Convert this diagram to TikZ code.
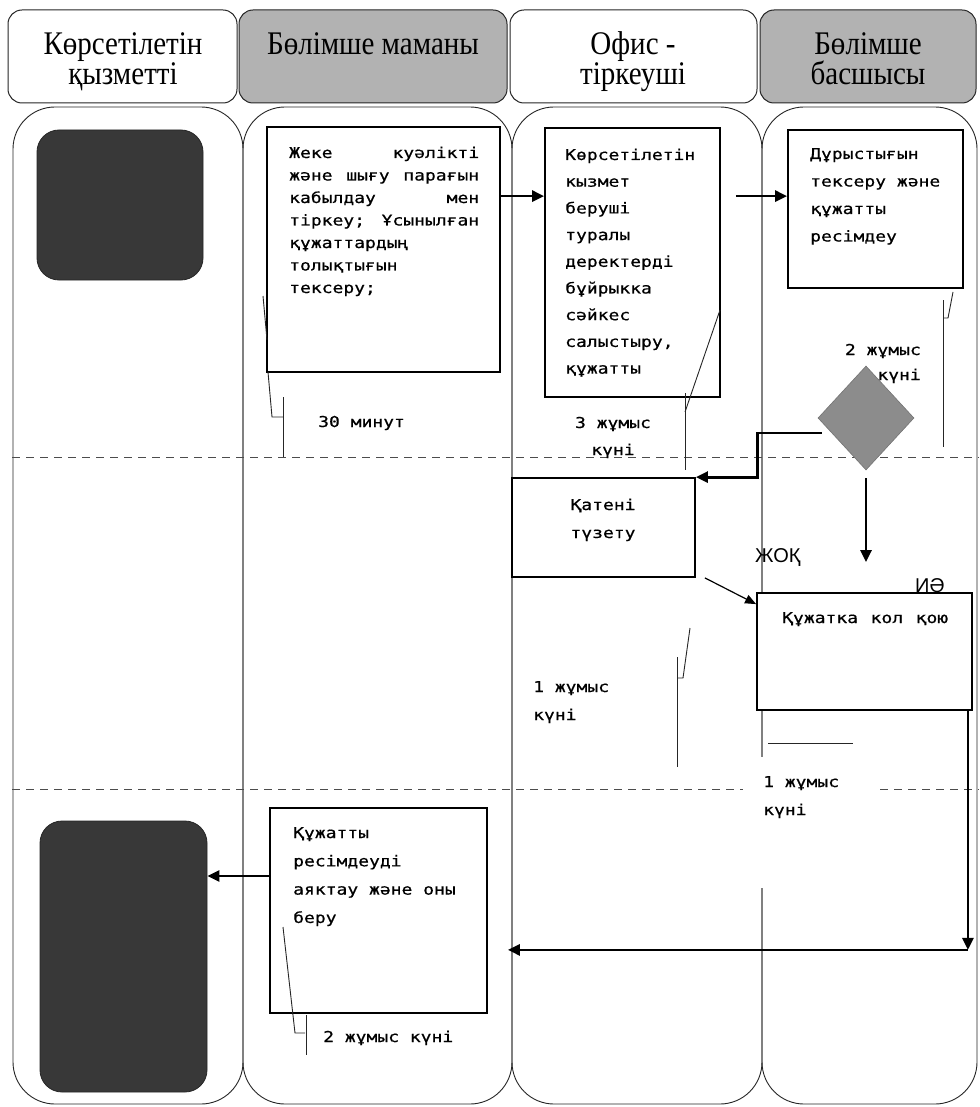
\documentclass[tikz,border=0pt]{standalone}
\usepackage{fontspec}
\setmainfont{Liberation Serif}
\newfontfamily\hdrf[FakeStretch=0.88]{Liberation Serif}
\newfontfamily\monof[FakeStretch=1.2,FakeBold=0.6]{DejaVu Sans Mono}
\newfontfamily\sansf{Liberation Sans}
\usetikzlibrary{arrows.meta,shapes.geometric}
\begin{document}
\begin{tikzpicture}[x=1pt,y=-1pt,
  lane/.style={draw=black!85, line width=0.9pt, rounded corners=42pt},
  hdr/.style={draw=black!85, line width=1pt, rounded corners=14pt},
  box/.style={draw=black, line width=1.8pt, inner sep=0pt, fill=white},
  dark/.style={fill=black!78, draw=black!85, line width=0.8pt, rounded corners=22pt, inner sep=0pt},
  mtxt/.style={inner sep=0pt, anchor=base west, font=\monof\fontsize{15}{#1}\selectfont},
  htxt/.style={inner sep=0pt, anchor=base, font=\hdrf\fontsize{33}{30}\selectfont},
  ltxt/.style={inner sep=0pt, anchor=base west, font=\sansf\fontsize{20}{22}\selectfont},
  thinline/.style={line width=0.9pt, black!85},
  arr/.style={line width=2.8pt, -{Triangle[length=12pt,width=11pt]}},
  arrthin/.style={line width=1.2pt, -{Triangle[length=11pt,width=9pt]}},
  dline/.style={dashed, dash pattern=on 8pt off 6pt, line width=0.8pt, black!70}
]
\useasboundingbox (0,0) rectangle (979,1107);
\fill[white] (0,0) rectangle (979,1107);

% headers
\draw[hdr, fill=white]   (8,10) rectangle (237,103);
\draw[hdr, fill=black!30] (239,10) rectangle (507,103);
\draw[hdr, fill=white]   (510,10) rectangle (757,103);
\draw[hdr, fill=black!30] (760,10) rectangle (976,103);
\node[htxt] (h1) at (123,55) {\parbox[t]{225pt}{\centering Көрсетілетін\\қызметті}};
\node[htxt] (h2) at (373,55) {\parbox[t]{260pt}{\centering Бөлімше маманы}};
\node[htxt] (h3) at (633,55) {\parbox[t]{240pt}{\centering Офис -\\тіркеуші}};
\node[htxt] (h4) at (868,55) {\parbox[t]{210pt}{\centering Бөлімше\\басшысы}};

% lanes
\draw[lane] (13,107) rectangle (243,1104);
\draw[lane] (243,107) rectangle (512,1104);
\draw[lane] (512,107) rectangle (762,1104);
\draw[lane] (762,107) rectangle (977,1104);

% dashed separators
\draw[dline] (12,457) -- (979,457);
\draw[dline] (12,789) -- (979,789);
\fill[white] (743,757) rectangle (875,888);

% dark terminals
\node[dark, minimum width=166pt, minimum height=150pt] (K1) at (120,205) {};
\node[dark, minimum width=167pt, minimum height=271pt] (K2) at (123.5,956.5) {};

% process boxes
\node[box, minimum width=233pt, minimum height=245pt] (A) at (383.5,249.5) {};
\node[box, minimum width=175pt, minimum height=269pt] (B) at (632.5,262.5) {};
\node[box, minimum width=175pt, minimum height=158pt] (C) at (875.5,209) {};
\node[box, minimum width=183pt, minimum height=99pt]  (D) at (603.5,527.5) {};
\node[box, minimum width=215pt, minimum height=117pt] (E) at (864.5,651.5) {};
\node[box, minimum width=217pt, minimum height=205pt] (F) at (378.5,910.5) {};
\node[diamond, aspect=0.92, fill=black!45, draw=black!55, line width=0.6pt, minimum width=96pt, minimum height=104pt, inner sep=0pt] (dia) at (866,418) {};

% box texts
\node[mtxt=22.5] (At) at (289,158) {\parbox[t]{190pt}{Жеке\hfill куәлікті\\және\hfill шығу\hfill парағын\\кабылдау\hfill мен\\тіркеу;\hfill Ұсынылған\\құжаттардың\\толықтығын\\тексеру;}};
\node[mtxt=26.7] (Bt) at (565,160) {\parbox[t]{150pt}{Көрсетілетін\\кызмет\\беруші\\туралы\\деректерді\\бұйрыкка\\сәйкес\\салыстыру,\\құжатты}};
\node[mtxt=27.5] (Ct) at (810,159) {\parbox[t]{150pt}{Дұрыстығын\\тексеру және\\құжатты\\ресімдеу}};
\node[mtxt=28, anchor=base] (Dt) at (603,510) {\parbox[t]{160pt}{\centering Қатені\\түзету}};
\node[mtxt=22] (Et) at (782,623) {\parbox[t]{166pt}{Құжатка\hfill кол\hfill қою}};
\node[mtxt=28.3] (Ft) at (293,838) {\parbox[t]{180pt}{Құжатты\\ресімдеуді\\аяктау және оны\\беру}};

% time labels
\node[mtxt=22] (t1) at (318,427) {30 минут};
\node[mtxt=27, anchor=base] (t2) at (613,428) {\parbox[t]{100pt}{\centering 3 жұмыс\\күні}};
\node[mtxt=25, anchor=base east] (t3) at (921,355) {\parbox[t]{100pt}{\raggedleft 2 жұмыс\\күні}};
\node[mtxt=28] (t4) at (533,692) {\parbox[t]{100pt}{1 жұмыс\\күні}};
\node[mtxt=28] (t5) at (763,787) {\parbox[t]{100pt}{1 жұмыс\\күні}};
\node[mtxt=22] (t6) at (323,1042) {2 жұмыс күні};
\node[ltxt] (no) at (755,562) {ЖОҚ};
\node[ltxt] (yes) at (915,592) {ИӘ};

% callout strokes
\draw[thinline] (263,296) -- (267,340);
\draw[thinline] (268,372) -- (272,417) -- (283,417);
\draw[thinline] (283,397) -- (283,457);
\draw[thinline] (720,310) -- (685,412);
\draw[thinline] (685,393) -- (685,470);
\draw[thinline] (953,292) -- (948,318) -- (943,318);
\draw[thinline] (943,300) -- (943,447);
\draw[thinline] (690,628) -- (683,678) -- (677,678);
\draw[thinline] (677,657) -- (677,767);
\draw[thinline] (283,927) -- (295,1033) -- (305,1033);
\draw[thinline] (306,1015) -- (306,1055);
\draw[thinline] (768,743) -- (853,743);

% connectors
\coordinate (a1) at ([yshift=-70pt]A.north east);
\draw[arr] (a1) -- (a1 -| B.west);
\coordinate (a2) at ([yshift=-69pt,xshift=15pt]B.north east);
\draw[arr] (a2) -- (a2 -| C.west);
\coordinate (d1) at ([xshift=4pt,yshift=-15pt]dia.west);
\draw[arr] (d1) -- ++(-64,0) |- (D.north east);
\coordinate (e1) at (dia.south |- E.north);
\draw[arr] ([yshift=-8pt]dia.south) -- ([yshift=30pt]e1);
\draw[arrthin] ([xshift=9pt]D.south east) -- ([yshift=-12pt]E.north west);
\coordinate (e2) at ([xshift=-5pt]E.south east);
\coordinate (e3) at ([yshift=-239pt]e2);
\draw[arr] (e2) -- (e3);
\coordinate (f1) at ([xshift=20pt]F.east |- e3);
\draw[arr] (e3) -- (f1);
\coordinate (f2) at ([yshift=34.5pt]F.west);
\draw[arr] (f2) -- (f2 -| K2.east);
\end{tikzpicture}
\end{document}
